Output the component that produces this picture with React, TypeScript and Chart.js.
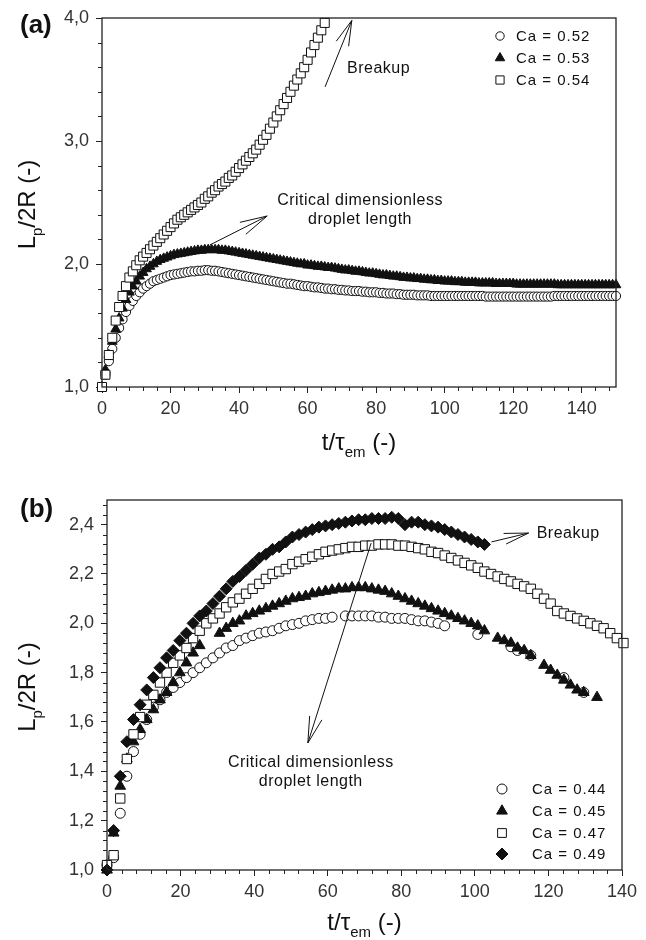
import React, { useEffect, useRef } from "react";
import { Chart, registerables } from "chart.js";
Chart.register(...registerables);

const FONT = '"Liberation Sans", Arial, Helvetica, sans-serif';
const INK = "#111";
const AXIS = "#222";

// ---------------- Panel (a) ----------------
const A_STEP = 1; // sampling interval of t/τem
const A_LABELS = ["Ca = 0.52", "Ca = 0.53", "Ca = 0.54"];
const A_CA052 = [
  1.00, 1.10, 1.21, 1.31, 1.40, 1.48, 1.55, 1.61, 1.66, 1.70,
  1.74, 1.77, 1.80, 1.82, 1.84, 1.86, 1.87, 1.88, 1.89, 1.90,
  1.91, 1.915, 1.92, 1.925, 1.93, 1.935, 1.94, 1.94, 1.945, 1.945,
  1.95, 1.95, 1.945, 1.945, 1.94, 1.935, 1.93, 1.925, 1.92, 1.915,
  1.91, 1.905, 1.90, 1.895, 1.89, 1.885, 1.88, 1.875, 1.87, 1.865,
  1.86, 1.855, 1.85, 1.845, 1.84, 1.84, 1.835, 1.83, 1.825, 1.82,
  1.82, 1.815, 1.81, 1.81, 1.805, 1.80, 1.80, 1.795, 1.795, 1.79,
  1.79, 1.785, 1.785, 1.78, 1.78, 1.78, 1.775, 1.775, 1.77, 1.77,
  1.77, 1.765, 1.765, 1.76, 1.76, 1.76, 1.755, 1.755, 1.75, 1.75,
  1.75, 1.75, 1.745, 1.745, 1.745, 1.745, 1.74, 1.74, 1.74, 1.74,
  1.74, 1.74, 1.74, 1.74, 1.74, 1.74, 1.74, 1.74, 1.74, 1.74,
  1.74, 1.74, 1.735, 1.735, 1.735, 1.735, 1.735, 1.735, 1.735, 1.735,
  1.735, 1.735, 1.735, 1.735, 1.735, 1.735, 1.735, 1.735, 1.735, 1.735,
  1.735, 1.735, 1.74, 1.74, 1.74, 1.74, 1.74, 1.74, 1.74, 1.74,
  1.74, 1.74, 1.74, 1.74, 1.74, 1.74, 1.74, 1.74, 1.74, 1.74,
  1.74,
];
const A_CA053 = [
  1.00, 1.14, 1.26, 1.37, 1.47, 1.56, 1.64, 1.71, 1.77, 1.82,
  1.86, 1.90, 1.93, 1.96, 1.98, 2.00, 2.02, 2.035, 2.045, 2.055,
  2.065, 2.075, 2.08, 2.085, 2.09, 2.095, 2.10, 2.105, 2.11, 2.11,
  2.115, 2.115, 2.115, 2.115, 2.115, 2.11, 2.11, 2.105, 2.10, 2.095,
  2.09, 2.085, 2.08, 2.075, 2.07, 2.065, 2.06, 2.055, 2.05, 2.045,
  2.04, 2.035, 2.03, 2.025, 2.02, 2.015, 2.01, 2.005, 2.00, 2.00,
  1.99, 1.99, 1.985, 1.98, 1.98, 1.975, 1.97, 1.97, 1.965, 1.96,
  1.955, 1.95, 1.95, 1.945, 1.94, 1.94, 1.935, 1.93, 1.925, 1.925,
  1.92, 1.915, 1.91, 1.91, 1.905, 1.90, 1.90, 1.895, 1.89, 1.89,
  1.885, 1.885, 1.88, 1.88, 1.875, 1.875, 1.87, 1.87, 1.865, 1.865,
  1.86, 1.86, 1.86, 1.855, 1.855, 1.855, 1.85, 1.85, 1.85, 1.85,
  1.845, 1.845, 1.845, 1.845, 1.845, 1.84, 1.84, 1.84, 1.84, 1.84,
  1.84, 1.835, 1.835, 1.835, 1.835, 1.835, 1.835, 1.835, 1.835, 1.835,
  1.835, 1.835, 1.835, 1.83, 1.83, 1.83, 1.83, 1.83, 1.83, 1.83,
  1.83, 1.83, 1.83, 1.83, 1.83, 1.83, 1.83, 1.83, 1.83, 1.83,
  1.83,
];
const A_CA054 = [
  1.00, 1.10, 1.26, 1.40, 1.54, 1.65, 1.74, 1.82, 1.89, 1.94,
  1.99, 2.03, 2.06, 2.09, 2.12, 2.15, 2.18, 2.21, 2.24, 2.27,
  2.30, 2.33, 2.36, 2.38, 2.40, 2.42, 2.44, 2.46, 2.48, 2.50,
  2.53, 2.55, 2.58, 2.60, 2.63, 2.65, 2.67, 2.70, 2.72, 2.75,
  2.78, 2.81, 2.84, 2.87, 2.90, 2.93, 2.97, 3.01, 3.05, 3.10,
  3.15, 3.20, 3.25, 3.30, 3.35, 3.40, 3.45, 3.50, 3.55, 3.60,
  3.66, 3.72, 3.78, 3.84, 3.90, 3.96,
];

// ---------------- Panel (b) ----------------
const B_STEP = 1.8; // sampling interval of t/τem (null = no point recorded)
const B_LABELS = ["Ca = 0.44", "Ca = 0.45", "Ca = 0.47", "Ca = 0.49"];
const B_CA044 = [
  1.02, 1.05, 1.23, 1.38, 1.48, 1.55, 1.61, 1.66, 1.69, 1.72,
  1.74, 1.76, 1.78, 1.80, 1.82, 1.84, 1.86, 1.88, 1.90, 1.91,
  1.93, 1.94, 1.95, 1.96, 1.965, 1.97, 1.98, 1.99, 1.995, 2.00,
  2.01, 2.015, 2.02, 2.02, 2.025, null, 2.03, 2.03, 2.03, 2.03,
  2.03, 2.025, 2.025, 2.02, 2.02, 2.02, 2.015, 2.01, 2.01, 2.005,
  2.00, 1.99, null, null, null, null, 1.955, null, null, null,
  null, 1.905, 1.89, null, 1.87, null, null, null, null, 1.78,
  null, null, 1.72,
];
const B_CA045 = [
  1.00, 1.15, 1.34, 1.45, 1.52, 1.57, 1.61, 1.65, 1.69, 1.72,
  1.76, 1.80, 1.84, 1.88, 1.91, null, null, 1.96, 1.98, 2.00,
  2.01, 2.03, 2.04, 2.05, 2.06, 2.07, 2.08, 2.09, 2.10, 2.105,
  2.11, 2.12, 2.125, 2.13, 2.135, 2.14, 2.14, 2.145, 2.145, 2.145,
  2.14, 2.135, 2.13, 2.12, 2.11, 2.10, 2.09, 2.08, 2.07, 2.06,
  2.05, 2.04, 2.03, 2.02, 2.01, 2.00, 1.99, 1.97, null, 1.94,
  1.93, 1.92, 1.90, 1.89, 1.87, null, 1.83, 1.81, 1.79, 1.77,
  1.75, 1.73, 1.72, null, 1.70,
];
const B_CA047 = [
  1.02, 1.06, 1.29, 1.45, 1.55, 1.62, 1.67, 1.71, 1.76, 1.80,
  1.84, 1.87, 1.90, 1.94, 1.97, 2.00, 2.02, 2.04, 2.065, 2.085,
  2.10, 2.12, 2.14, 2.16, 2.18, 2.20, 2.21, 2.22, 2.24, 2.25,
  2.26, 2.27, 2.28, 2.29, 2.295, 2.30, 2.305, 2.31, 2.31, 2.315,
  2.315, 2.32, 2.32, 2.32, 2.315, 2.315, 2.31, 2.305, 2.30, 2.29,
  2.285, 2.275, 2.265, 2.255, 2.245, 2.235, 2.225, 2.21, 2.20, 2.19,
  2.18, 2.17, 2.16, 2.15, 2.14, 2.12, 2.10, 2.08, 2.05, 2.04,
  2.03, 2.02, 2.01, 2.00, 1.99, 1.98, 1.96, 1.94, 1.92,
];
const B_CA049 = [
  1.00, 1.16, 1.38, 1.52, 1.61, 1.67, 1.73, 1.78, 1.82, 1.86,
  1.89, 1.93, 1.96, 2.00, 2.03, 2.05, 2.08, 2.11, 2.14, 2.17,
  2.19, 2.215, 2.24, 2.265, 2.28, 2.30, 2.31, 2.33, 2.35, 2.36,
  2.37, 2.38, 2.39, 2.395, 2.40, 2.405, 2.41, 2.415, 2.42, 2.42,
  2.425, 2.425, 2.425, 2.43, 2.425, 2.40, 2.41, 2.41, 2.40, 2.395,
  2.39, 2.38, 2.37, 2.36, 2.35, 2.34, 2.33, 2.32,
];

type Pt = { x: number; y: number };
const toPoints = (vals: (number | null)[], step: number): Pt[] =>
  vals
    .map((v, i) => (v == null ? null : { x: Math.round(i * step * 100) / 100, y: v }))
    .filter((p) => p !== null) as Pt[];

type Style = "circle" | "triangle" | "rect" | "rectRot";

function drawMarker(ctx: CanvasRenderingContext2D, style: Style, x: number, y: number, r: number, filled: boolean) {
  ctx.beginPath();
  if (style === "circle") {
    ctx.arc(x, y, r, 0, Math.PI * 2);
  } else if (style === "triangle") {
    const s = Math.sin(Math.PI / 3) * r;
    ctx.moveTo(x, y - r);
    ctx.lineTo(x + s, y + r / 2);
    ctx.lineTo(x - s, y + r / 2);
    ctx.closePath();
  } else if (style === "rect") {
    const h = Math.SQRT1_2 * r;
    ctx.rect(x - h, y - h, 2 * h, 2 * h);
  } else {
    ctx.moveTo(x - r, y);
    ctx.lineTo(x, y - r);
    ctx.lineTo(x + r, y);
    ctx.lineTo(x, y + r);
    ctx.closePath();
  }
  ctx.fillStyle = filled ? INK : "#fff";
  ctx.fill();
  ctx.lineWidth = 1;
  ctx.strokeStyle = INK;
  ctx.stroke();
}

function drawArrow(ctx: CanvasRenderingContext2D, x1: number, y1: number, x2: number, y2: number, head: number, ang: number) {
  const a = Math.atan2(y1 - y2, x1 - x2);
  ctx.beginPath();
  ctx.moveTo(x1, y1);
  ctx.lineTo(x2, y2);
  ctx.moveTo(x2 + head * Math.cos(a + ang), y2 + head * Math.sin(a + ang));
  ctx.lineTo(x2, y2);
  ctx.lineTo(x2 + head * Math.cos(a - ang), y2 + head * Math.sin(a - ang));
  ctx.lineWidth = 1;
  ctx.strokeStyle = INK;
  ctx.stroke();
}

type Part = { t: string; sub?: boolean };
const MAIN_F = `24px ${FONT}`;
const SUB_F = `15px ${FONT}`;
function drawRich(ctx: CanvasRenderingContext2D, parts: Part[], cx: number, baseline: number) {
  let w = 0;
  for (const p of parts) {
    ctx.font = p.sub ? SUB_F : MAIN_F;
    w += ctx.measureText(p.t).width;
  }
  let x = cx - w / 2;
  ctx.textAlign = "left";
  ctx.textBaseline = "alphabetic";
  ctx.fillStyle = INK;
  for (const p of parts) {
    ctx.font = p.sub ? SUB_F : MAIN_F;
    ctx.fillText(p.t, x, baseline + (p.sub ? 7 : 0));
    x += ctx.measureText(p.t).width;
  }
}

const Y_TITLE: Part[] = [{ t: "L" }, { t: "p", sub: true }, { t: "/2R (-)" }];
const X_TITLE: Part[] = [{ t: "t/τ" }, { t: "em", sub: true }, { t: " (-)" }];

type Spec = {
  panel: string;
  panelBaseline: number;
  xMinor: number;
  yMinor: number;
  xTitleBaseline: number;
  legend: { style: Style; filled: boolean; r: number; label: string }[];
  legendMarkerX: number;
  legendTextX: number;
  legendRows: number[];
  arrows: { from: [number, number]; to: [number, number]; head: number; ang: number }[];
  texts: { at: [number, number]; text: string; align: CanvasTextAlign }[];
};

const decor = (spec: Spec) => ({
  id: "decor",
  afterDraw(chart: any) {
    const ctx: CanvasRenderingContext2D = chart.ctx;
    const { left, right, top, bottom } = chart.chartArea;
    const xs = chart.scales.x;
    const ys = chart.scales.y;
    const X = (v: number) => xs.getPixelForValue(v);
    const Y = (v: number) => ys.getPixelForValue(v);
    ctx.save();

    // frame
    ctx.strokeStyle = AXIS;
    ctx.lineWidth = 1.3;
    ctx.strokeRect(left, top, right - left, bottom - top);

    // minor ticks
    ctx.beginPath();
    ctx.lineWidth = 1;
    for (let k = 0; ; k++) {
      const v = xs.min + k * spec.xMinor;
      if (v > xs.max + 1e-9) break;
      if (k % 5 === 0) continue;
      const px = Math.round(X(v)) + 0.5;
      ctx.moveTo(px, bottom);
      ctx.lineTo(px, bottom + 4);
    }
    for (let k = 0; ; k++) {
      const v = ys.min + k * spec.yMinor;
      if (v > ys.max + 1e-9) break;
      if (k % 5 === 0) continue;
      const py = Math.round(Y(v)) + 0.5;
      ctx.moveTo(left, py);
      ctx.lineTo(left - 4, py);
    }
    ctx.stroke();

    // axis titles
    drawRich(ctx, X_TITLE, (left + right) / 2, spec.xTitleBaseline);
    ctx.save();
    ctx.translate(35, (top + bottom) / 2 + 2);
    ctx.rotate(-Math.PI / 2);
    drawRich(ctx, Y_TITLE, 0, 0);
    ctx.restore();

    // panel label
    ctx.font = `bold 26px ${FONT}`;
    ctx.fillStyle = INK;
    ctx.textAlign = "left";
    ctx.textBaseline = "alphabetic";
    ctx.fillText(spec.panel, 20, spec.panelBaseline);

    // legend
    (ctx as any).letterSpacing = "1px";
    ctx.font = `15px ${FONT}`;
    spec.legend.forEach((it, i) => {
      const row = spec.legendRows[i];
      drawMarker(ctx, it.style, spec.legendMarkerX, row, it.r, it.filled);
      ctx.fillStyle = INK;
      ctx.textAlign = "left";
      ctx.textBaseline = "middle";
      ctx.fillText(it.label, spec.legendTextX, row + 1);
    });

    // annotations
    for (const a of spec.arrows) {
      drawArrow(ctx, X(a.from[0]), Y(a.from[1]), X(a.to[0]), Y(a.to[1]), a.head, a.ang);
    }
    (ctx as any).letterSpacing = "0.5px";
    ctx.font = `16px ${FONT}`;
    ctx.fillStyle = INK;
    ctx.textBaseline = "alphabetic";
    for (const t of spec.texts) {
      ctx.textAlign = t.align;
      ctx.fillText(t.text, X(t.at[0]), Y(t.at[1]));
    }
    (ctx as any).letterSpacing = "0px";
    ctx.restore();
  },
});

const fmtComma = (v: any) => Number(v).toFixed(1).replace(".", ",");

function scales(o: { xMax: number; yMin: number; yMax: number; yStep: number; yWidth: number; xHeight: number }) {
  const tickFont = { family: FONT, size: 18 };
  return {
    x: {
      type: "linear",
      min: 0,
      max: o.xMax,
      afterFit: (s: any) => {
        s.height = o.xHeight;
      },
      border: { display: false },
      grid: { display: true, drawOnChartArea: false, drawTicks: true, tickLength: 6, color: AXIS, lineWidth: 1 },
      ticks: { stepSize: 20, includeBounds: false, font: tickFont, color: "#333", padding: 5, maxRotation: 0, autoSkip: false },
    },
    y: {
      type: "linear",
      min: o.yMin,
      max: o.yMax,
      afterFit: (s: any) => {
        s.width = o.yWidth;
      },
      border: { display: false },
      grid: { display: true, drawOnChartArea: false, drawTicks: true, tickLength: 6, color: AXIS, lineWidth: 1 },
      ticks: { stepSize: o.yStep, includeBounds: false, font: tickFont, color: "#333", padding: 7, autoSkip: false, callback: fmtComma },
    },
  };
}

function ds(label: string, data: Pt[], style: Style, r: number, filled: boolean, order: number) {
  return {
    label,
    data,
    showLine: false,
    pointStyle: style,
    pointRadius: r,
    pointHoverRadius: r,
    pointBackgroundColor: filled ? INK : "#fff",
    pointBorderColor: INK,
    pointBorderWidth: 1,
    order,
    clip: false,
  };
}

export default function App() {
  const refA = useRef<HTMLCanvasElement>(null);
  const refB = useRef<HTMLCanvasElement>(null);

  useEffect(() => {
    Chart.defaults.font.family = FONT;

    const specA: Spec = {
      panel: "(a)",
      panelBaseline: 33,
      xMinor: 4,
      yMinor: 0.2,
      xTitleBaseline: 450,
      legend: [
        { style: "circle", filled: false, r: 4.2, label: A_LABELS[0] },
        { style: "triangle", filled: true, r: 5.5, label: A_LABELS[1] },
        { style: "rect", filled: false, r: 5.8, label: A_LABELS[2] },
      ],
      legendMarkerX: 500,
      legendTextX: 516,
      legendRows: [36, 58, 80],
      arrows: [
        { from: [65.1, 3.44], to: [72.9, 3.98], head: 26, ang: 0.26 },
        { from: [31.5, 2.155], to: [48.2, 2.39], head: 28, ang: 0.24 },
      ],
      texts: [
        { at: [71.5, 3.55], text: "Breakup", align: "left" },
        { at: [75.3, 2.48], text: "Critical dimensionless", align: "center" },
        { at: [75.3, 2.325], text: "droplet length", align: "center" },
      ],
    };

    const chartA = new Chart(refA.current as HTMLCanvasElement, {
      type: "scatter",
      data: {
        datasets: [
          ds(A_LABELS[0], toPoints(A_CA052, A_STEP), "circle", 4.6, false, 3),
          ds(A_LABELS[1], toPoints(A_CA053, A_STEP), "triangle", 5.6, true, 2),
          ds(A_LABELS[2], toPoints(A_CA054, A_STEP), "rect", 6.4, false, 1),
        ] as any,
      },
      options: {
        responsive: false,
        animation: false,
        devicePixelRatio: 1,
        layout: { padding: { left: 0, top: 18, right: 30, bottom: 0 } },
        plugins: { legend: { display: false }, tooltip: { enabled: false } },
        scales: scales({ xMax: 150, yMin: 1, yMax: 4, yStep: 1, yWidth: 102, xHeight: 73 }) as any,
      },
      plugins: [decor(specA)],
    });

    const specB: Spec = {
      panel: "(b)",
      panelBaseline: 57,
      xMinor: 4,
      yMinor: 0.04,
      xTitleBaseline: 470,
      legend: [
        { style: "circle", filled: false, r: 5, label: B_LABELS[0] },
        { style: "triangle", filled: true, r: 6.2, label: B_LABELS[1] },
        { style: "rect", filled: false, r: 6.2, label: B_LABELS[2] },
        { style: "rectRot", filled: true, r: 6, label: B_LABELS[3] },
      ],
      legendMarkerX: 502,
      legendTextX: 532,
      legendRows: [329, 351, 373, 394],
      arrows: [
        { from: [104.5, 2.33], to: [114.6, 2.366], head: 25, ang: 0.22 },
        { from: [71.8, 2.325], to: [54.6, 1.515], head: 27, ang: 0.24 },
      ],
      texts: [
        { at: [116.8, 2.346], text: "Breakup", align: "left" },
        { at: [55.4, 1.4175], text: "Critical dimensionless", align: "center" },
        { at: [55.4, 1.34], text: "droplet length", align: "center" },
      ],
    };

    const chartB = new Chart(refB.current as HTMLCanvasElement, {
      type: "scatter",
      data: {
        datasets: [
          ds(B_LABELS[0], toPoints(B_CA044, B_STEP), "circle", 5, false, 4),
          ds(B_LABELS[1], toPoints(B_CA045, B_STEP), "triangle", 6.2, true, 3),
          ds(B_LABELS[2], toPoints(B_CA047, B_STEP), "rect", 6.6, false, 2),
          ds(B_LABELS[3], toPoints(B_CA049, B_STEP), "rectRot", 6, true, 1),
        ] as any,
      },
      options: {
        responsive: false,
        animation: false,
        devicePixelRatio: 1,
        layout: { padding: { left: 0, top: 40, right: 24, bottom: 0 } },
        plugins: { legend: { display: false }, tooltip: { enabled: false } },
        scales: scales({ xMax: 140, yMin: 1, yMax: 2.5, yStep: 0.2, yWidth: 107, xHeight: 70 }) as any,
      },
      plugins: [decor(specB)],
    });

    return () => {
      chartA.destroy();
      chartB.destroy();
    };
  }, []);

  return (
    <div style={{ position: "absolute", left: 0, top: 0, width: 646, height: 940, background: "#fff" }}>
      <canvas ref={refA} width={646} height={460} style={{ position: "absolute", left: 0, top: 0, display: "block" }} />
      <canvas ref={refB} width={646} height={480} style={{ position: "absolute", left: 0, top: 460, display: "block" }} />
    </div>
  );
}
